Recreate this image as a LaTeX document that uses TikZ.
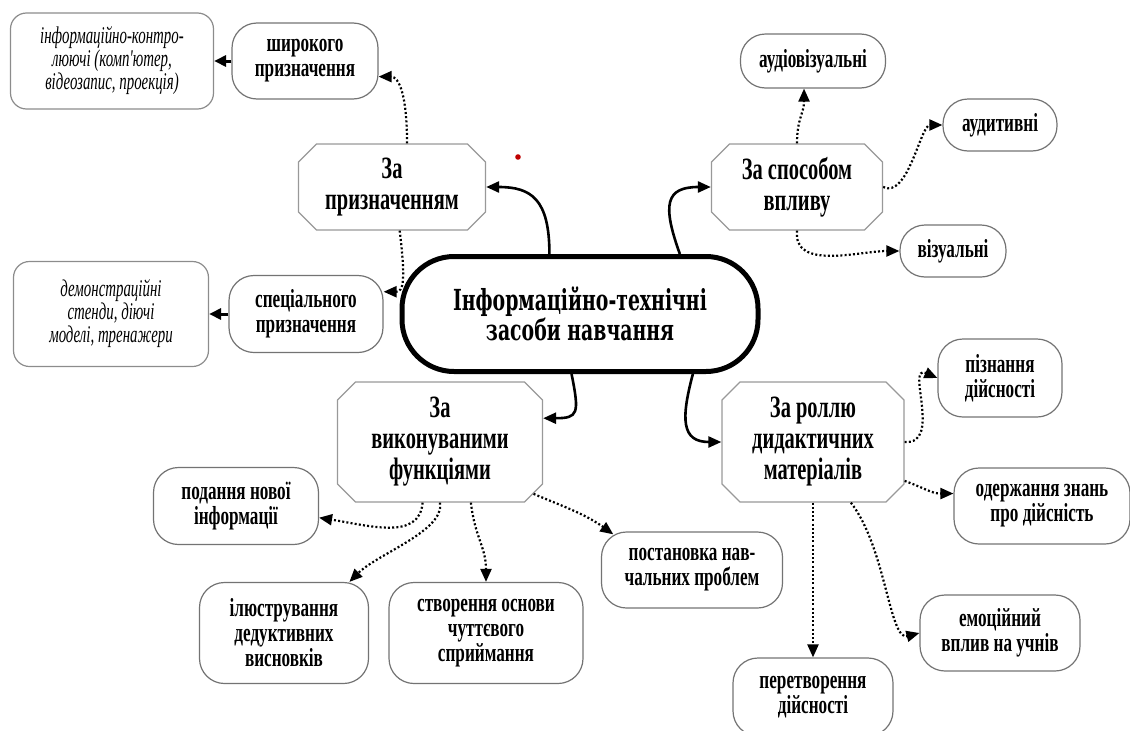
\documentclass[tikz,border=0pt]{standalone}
\usepackage{fontspec}
\usetikzlibrary{arrows.meta, shapes.misc}
\newfontfamily\leaffont{Liberation Serif}[FakeStretch=0.66]
\newfontfamily\octfont{Liberation Serif}[FakeStretch=0.66]
\newfontfamily\notefont{Liberation Serif}[FakeStretch=0.62]
\newfontfamily\rootfont{DejaVu Serif}[FakeStretch=0.65]

\tikzset{
  octbox/.style={chamfered rectangle, chamfered rectangle xsep=8pt, chamfered rectangle ysep=10pt,
    draw=black!40, line width=1.3pt, fill=white, align=center, inner sep=0pt,
    font=\octfont\bfseries\fontsize{31}{31}\selectfont},
  leafbox/.style={rectangle, rounded corners=25pt, draw=black!55, line width=1.2pt, align=center,
    inner sep=0pt, font=\leaffont\bfseries\fontsize{26}{25}\selectfont},
  notebox/.style={rectangle, rounded corners=16pt, draw=black!45, line width=1.2pt, align=center,
    inner sep=0pt, font=\notefont\itshape\fontsize{24}{23}\selectfont},
  rootbox/.style={rectangle, rounded corners=52pt, draw=black, line width=5pt, align=center,
    font=\rootfont\bfseries\fontsize{29}{30}\selectfont},
  mainarrow/.style={line width=2.6pt, -{Triangle[length=13pt,width=11pt]}},
  dotarrow/.style={line width=2.2pt, dash pattern={on 2pt off 2.2pt}, -{Triangle[length=13pt,width=11pt]}},
  shortarrow/.style={line width=3pt, -{Triangle[length=12pt,width=11pt]}},
}

\begin{document}
\begin{tikzpicture}[x=1pt,y=1pt,yscale=-1,xscale=1]
\useasboundingbox (0,0) rectangle (1130,731);

% Root Node
\node[rootbox, minimum width=356, minimum height=115] (centr) at (580,314) {Інформаційно-технічні\\засоби навчання};

% Group Nodes
\node[octbox, minimum width=187, minimum height=86] (zaPryzn) at (392,187) {За\\призначенням};
\node[octbox, minimum width=171, minimum height=86] (sposib) at (797,187) {За способом\\впливу};
\node[octbox, minimum width=205, minimum height=120] (vykon) at (440,442) {За\\виконуваними\\функціями};
\node[octbox, minimum width=182, minimum height=120] (rol) at (813,442) {За роллю\\дидактичних\\матеріалів};

% Text Node
\node[leafbox, minimum width=146, minimum height=76] (shyr) at (305,61) {широкого\\призначення};
\node[notebox, minimum width=203, minimum height=96] (info) at (112,61) {інформаційно-контро-\\люючі (комп'ютер,\\відеозапис, проекція)};
\node[leafbox, minimum width=154, minimum height=77] (spets) at (306,314) {спеціального\\призначення};
\node[notebox, minimum width=195, minimum height=105] (demo) at (111,314) {демонстраційні\\стенди, діючі\\моделі, тренажери};
% Text Node
\node[leafbox, minimum width=145, minimum height=54] (audvis) at (813,61) {аудіовізуальні};
\node[leafbox, minimum width=114, minimum height=52] (audyt) at (1000,125) {аудитивні};
\node[leafbox, minimum width=106, minimum height=52] (vizual) at (953,251) {візуальні};
% Text Node
\node[leafbox, minimum width=124, minimum height=78] (pizn) at (1000,378) {пізнання\\дійсності};
\node[leafbox, minimum width=176, minimum height=76] (oderzh) at (1042,506) {одержання знань\\про дійсність};
\node[leafbox, minimum width=160, minimum height=76] (emoc) at (1000,633) {емоційний\\вплив на учнів};
\node[leafbox, minimum width=160, minimum height=78] (peret) at (813,697) {перетворення\\дійсності};
% Text Node
\node[leafbox, minimum width=165, minimum height=77] (podan) at (236,506) {подання нової\\інформації};
\node[leafbox, minimum width=169, minimum height=101] (ilyus) at (284,633) {ілюстрування\\дедуктивних\\висновків};
\node[leafbox, minimum width=194, minimum height=101] (stvor) at (486,633) {створення основи\\чуттєвого\\сприймання};
\node[leafbox, minimum width=181, minimum height=76] (postan) at (692,570) {постановка нав-\\чальних проблем};

% stray mark
\fill[red!75!black] (518,157) circle (2.8pt);

%Curve Lines (root)
\draw[mainarrow] (centr.117) .. controls +(0,-55) and +(45,0) .. (zaPryzn.east);
\draw[mainarrow] (centr.31) .. controls +(-18,-50) and +(-45,0) .. (sposib.west);
\draw[mainarrow] (centr.-98) .. controls +(8,40) and +(35,0) .. (vykon.13);
\draw[mainarrow] (centr.-28) .. controls +(-12,45) and +(-40,0) .. (rol.west);

%Curve Lines (За призначенням)
\draw[dotarrow] (zaPryzn.71) .. controls +(0,-50) and +(20,0) .. (shyr.-12);
\draw[dotarrow] (zaPryzn.-80) .. controls +(6,50) and +(20,0) .. (spets.16);
\draw[shortarrow] (shyr.west) -- (info.east);
\draw[shortarrow] (spets.west) -- (demo.east);

%Curve Lines (За способом впливу)
\draw[dotarrow] (sposib.north) .. controls +(0,-25) and +(0,25) .. (audvis.-108);
\draw[dotarrow] (sposib.east) .. controls +(25,12) and +(-22,0) .. (audyt.west);
\draw[dotarrow] (sposib.south) .. controls +(-4,40) and +(-40,0) .. (vizual.west);

%Curve Lines (За роллю)
\draw[dotarrow] (rol.east) .. controls +(38,3) and +(-32,-14) .. (pizn.west);
\draw[dotarrow] (rol.-23) .. controls +(22,8) and +(-22,0) .. (oderzh.172);
\draw[dotarrow] (rol.-58) .. controls +(35,45) and +(-30,8) .. (emoc.west);
\draw[dotarrow] (rol.south) -- (peret.north);

%Curve Lines (За виконуваними)
\draw[dotarrow] (vykon.-106) .. controls +(-3,38) and +(50,8) .. (podan.-8);
\draw[dotarrow] (vykon.south) .. controls +(5,28) and +(28,-28) .. (ilyus.38);
\draw[dotarrow] (vykon.-63) .. controls +(4,35) and +(0,-35) .. (stvor.north);
\draw[dotarrow, shorten >=-5pt] (vykon.-29) .. controls +(28,12) and +(-25,-18) .. (postan.155);

\end{tikzpicture}
\end{document}
